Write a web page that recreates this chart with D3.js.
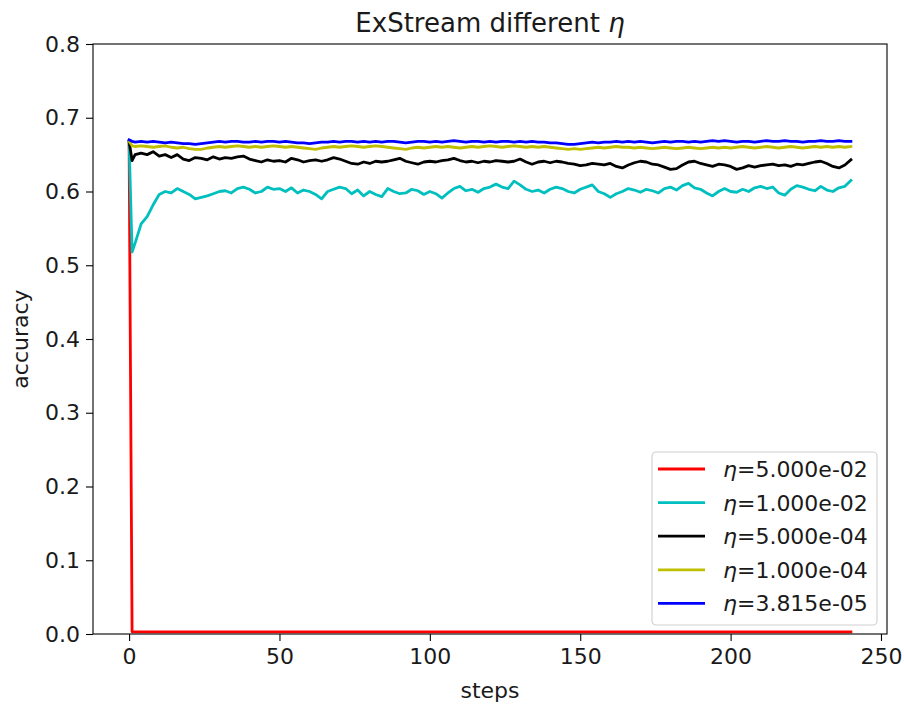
<!DOCTYPE html>
<html>
<head>
<meta charset="utf-8">
<script src="https://d3js.org/d3.v7.min.js"></script>
<style>
  body { margin: 0; background: #fff; }
  text { font-family: "DejaVu Sans", sans-serif; fill: #1a1a1a; }
</style>
</head>
<body>
<div id="chart"></div>
<script>
// steps used for the noisy series: 0, 1, then every 2nd step up to 240
var steps = [0, 1].concat(d3.range(2, 241, 2));

// red run collapses right away and stays flat
var redSteps = [0, 1, 240];
var redValues = [0.668, 0.003, 0.003];

var cyanValues = [
  0.668, 0.518,
  0.530, 0.556, 0.566, 0.582, 0.596, 0.600, 0.598, 0.604, 0.600, 0.596,
  0.590, 0.592, 0.594, 0.597, 0.600, 0.601, 0.598, 0.604, 0.606, 0.603,
  0.598, 0.600, 0.606, 0.603, 0.604, 0.600, 0.605, 0.598, 0.602, 0.600,
  0.596, 0.590, 0.600, 0.603, 0.606, 0.604, 0.597, 0.602, 0.594, 0.600,
  0.596, 0.593, 0.604, 0.600, 0.597, 0.598, 0.603, 0.601, 0.596, 0.600,
  0.597, 0.591, 0.598, 0.604, 0.607, 0.601, 0.603, 0.599, 0.604, 0.606,
  0.610, 0.606, 0.604, 0.614, 0.609, 0.603, 0.600, 0.602, 0.598, 0.603,
  0.606, 0.604, 0.600, 0.598, 0.603, 0.606, 0.609, 0.600, 0.597, 0.592,
  0.597, 0.600, 0.604, 0.602, 0.599, 0.603, 0.601, 0.598, 0.604, 0.606,
  0.602, 0.608, 0.611, 0.605, 0.603, 0.598, 0.594, 0.600, 0.604, 0.600,
  0.599, 0.603, 0.600, 0.605, 0.607, 0.604, 0.606, 0.598, 0.595, 0.603,
  0.608, 0.606, 0.603, 0.601, 0.607, 0.602, 0.600, 0.605, 0.607, 0.615
];

var blackValues = [
  0.668, 0.642,
  0.650, 0.652, 0.650, 0.654, 0.648, 0.650, 0.646, 0.650, 0.644, 0.642,
  0.646, 0.645, 0.643, 0.647, 0.644, 0.646, 0.645, 0.647, 0.648, 0.644,
  0.642, 0.640, 0.643, 0.641, 0.642, 0.640, 0.645, 0.643, 0.640, 0.642,
  0.643, 0.641, 0.643, 0.646, 0.644, 0.641, 0.638, 0.637, 0.640, 0.638,
  0.641, 0.640, 0.641, 0.643, 0.645, 0.641, 0.639, 0.637, 0.640, 0.641,
  0.640, 0.642, 0.643, 0.645, 0.642, 0.640, 0.641, 0.639, 0.641, 0.640,
  0.642, 0.641, 0.640, 0.641, 0.644, 0.640, 0.637, 0.640, 0.641, 0.639,
  0.641, 0.640, 0.638, 0.637, 0.635, 0.636, 0.638, 0.637, 0.636, 0.638,
  0.634, 0.632, 0.636, 0.639, 0.641, 0.640, 0.637, 0.636, 0.633, 0.630,
  0.631, 0.636, 0.640, 0.641, 0.638, 0.636, 0.634, 0.637, 0.636, 0.634,
  0.630, 0.632, 0.635, 0.633, 0.635, 0.636, 0.637, 0.635, 0.636, 0.634,
  0.637, 0.636, 0.638, 0.640, 0.641, 0.638, 0.634, 0.632, 0.636, 0.643
];

var yellowValues = [
  0.668, 0.662,
  0.661, 0.662, 0.661, 0.660, 0.661, 0.662, 0.660, 0.659, 0.660, 0.658,
  0.657, 0.657, 0.659, 0.660, 0.661, 0.660, 0.661, 0.662, 0.661, 0.660,
  0.661, 0.660, 0.661, 0.662, 0.661, 0.660, 0.661, 0.660, 0.659, 0.658,
  0.657, 0.659, 0.660, 0.661, 0.660, 0.661, 0.662, 0.661, 0.660, 0.661,
  0.662, 0.661, 0.660, 0.659, 0.658, 0.657, 0.659, 0.660, 0.659, 0.660,
  0.661, 0.660, 0.661, 0.660, 0.659, 0.660, 0.661, 0.660, 0.661, 0.662,
  0.661, 0.660, 0.661, 0.662, 0.661, 0.660, 0.661, 0.660, 0.661, 0.660,
  0.659, 0.658, 0.657, 0.658, 0.657, 0.658, 0.659, 0.660, 0.659, 0.660,
  0.661, 0.660, 0.660, 0.659, 0.660, 0.659, 0.658, 0.659, 0.660, 0.659,
  0.658, 0.659, 0.660, 0.659, 0.658, 0.659, 0.660, 0.659, 0.660, 0.659,
  0.660, 0.661, 0.660, 0.659, 0.660, 0.661, 0.660, 0.659, 0.660, 0.661,
  0.660, 0.659, 0.660, 0.661, 0.660, 0.661, 0.660, 0.661, 0.660, 0.661
];

var blueValues = [
  0.670, 0.668,
  0.667, 0.668, 0.667, 0.668, 0.667, 0.666, 0.667, 0.666, 0.665, 0.665,
  0.664, 0.665, 0.666, 0.667, 0.668, 0.667, 0.668, 0.668, 0.667, 0.667,
  0.668, 0.667, 0.668, 0.668, 0.667, 0.668, 0.667, 0.666, 0.666, 0.665,
  0.666, 0.667, 0.667, 0.668, 0.667, 0.668, 0.668, 0.667, 0.668, 0.667,
  0.668, 0.667, 0.668, 0.668, 0.667, 0.666, 0.667, 0.668, 0.668, 0.667,
  0.668, 0.667, 0.668, 0.669, 0.668, 0.667, 0.668, 0.668, 0.667, 0.668,
  0.667, 0.668, 0.668, 0.667, 0.668, 0.667, 0.668, 0.667, 0.667, 0.666,
  0.666, 0.665, 0.664, 0.664, 0.665, 0.666, 0.667, 0.666, 0.667, 0.667,
  0.668, 0.667, 0.668, 0.667, 0.668, 0.667, 0.666, 0.667, 0.668, 0.667,
  0.668, 0.668, 0.667, 0.668, 0.667, 0.668, 0.669, 0.668, 0.669, 0.668,
  0.667, 0.668, 0.668, 0.667, 0.668, 0.669, 0.668, 0.668, 0.669, 0.668,
  0.668, 0.667, 0.668, 0.668, 0.669, 0.668, 0.668, 0.669, 0.668, 0.668
];

var labels = ["=5.000e-02", "=1.000e-02", "=5.000e-04", "=1.000e-04", "=3.815e-05"];
var colors = ["#ff0000", "#00bfbf", "#000000", "#bfbf00", "#0000ff"];

var xTicks = [0, 50, 100, 150, 200, 250];
var yTicks = [0.0, 0.1, 0.2, 0.3, 0.4, 0.5, 0.6, 0.7, 0.8];

var series = [
  {x: redSteps, y: redValues},
  {x: steps, y: cyanValues},
  {x: steps, y: blackValues},
  {x: steps, y: yellowValues},
  {x: steps, y: blueValues}
];

var margin = {top: 44, right: 17, bottom: 70, left: 93};
var width = 904 - margin.left - margin.right,
    height = 704 - margin.top - margin.bottom;

var svg = d3.select("#chart").append("svg")
    .attr("width", 904)
    .attr("height", 704);

var g = svg.append("g")
    .attr("transform", "translate(" + margin.left + "," + margin.top + ")");

var x = d3.scaleLinear().domain([-12, 252]).range([0, width]);
var y = d3.scaleLinear().domain([0, 0.8]).range([height, 0]);

// lines
var line = d3.line()
    .x(function(d) { return x(d[0]); })
    .y(function(d) { return y(d[1]); });

g.append("defs").append("clipPath").attr("id", "clip")
  .append("rect").attr("width", width).attr("height", height);

g.append("g").attr("clip-path", "url(#clip)")
  .selectAll("path")
  .data(series)
  .enter()
  .append("path")
    .attr("fill", "none")
    .attr("stroke", function(d, i) { return colors[i]; })
    .attr("stroke-width", 2.8)
    .attr("stroke-linejoin", "round")
    .attr("stroke-linecap", "square")
    .attr("d", function(s) { return line(d3.zip(s.x, s.y)); });

// axes
var xAxis = d3.axisBottom(x).tickValues(xTicks).tickSize(7).tickPadding(7);
var yAxis = d3.axisLeft(y).tickValues(yTicks).tickFormat(d3.format(".1f")).tickSize(7).tickPadding(6);

var gx = g.append("g")
    .attr("transform", "translate(0," + height + ")")
    .call(xAxis);
var gy = g.append("g").call(yAxis);

[gx, gy].forEach(function(a) {
  a.select(".domain").remove();
  a.selectAll("line").attr("stroke", "#000").attr("stroke-width", 1.1);
  a.selectAll("text").style("font-size", "22px").attr("fill", "#1a1a1a");
});

// frame
g.append("rect")
    .attr("width", width)
    .attr("height", height)
    .attr("fill", "none")
    .attr("stroke", "#000")
    .attr("stroke-width", 1.1);

// title and labels
var title = svg.append("text")
    .attr("x", margin.left + width / 2)
    .attr("y", 32)
    .attr("text-anchor", "middle")
    .style("font-size", "26px")
    .text("ExStream different ");
title.append("tspan").style("font-style", "italic").text("\u03b7");

svg.append("text")
    .attr("x", margin.left + width / 2)
    .attr("y", 698)
    .attr("text-anchor", "middle")
    .style("font-size", "22px")
    .text("steps");

svg.append("text")
    .attr("transform", "translate(28," + (margin.top + height / 2) + ") rotate(-90)")
    .attr("text-anchor", "middle")
    .style("font-size", "22px")
    .text("accuracy");

// legend
var legend = svg.append("g").attr("transform", "translate(652,452)");

legend.append("rect")
    .attr("width", 225)
    .attr("height", 173)
    .attr("rx", 4)
    .attr("fill", "#fff")
    .attr("fill-opacity", 0.8)
    .attr("stroke", "#d0d0d0")
    .attr("stroke-width", 1.1);

var items = legend.selectAll("g.item")
    .data(labels)
    .enter()
    .append("g")
    .attr("class", "item")
    .attr("transform", function(d, i) { return "translate(0," + (17 + i * 33.6) + ")"; });

items.append("line")
    .attr("x1", 6).attr("x2", 53)
    .attr("stroke", function(d, i) { return colors[i]; })
    .attr("stroke-width", 2.8);

var lt = items.append("text")
    .attr("x", 71)
    .attr("y", 8)
    .style("font-size", "22px");
lt.append("tspan").style("font-style", "italic").text("\u03b7");
lt.append("tspan").text(function(d) { return d; });
</script>
</body>
</html>
